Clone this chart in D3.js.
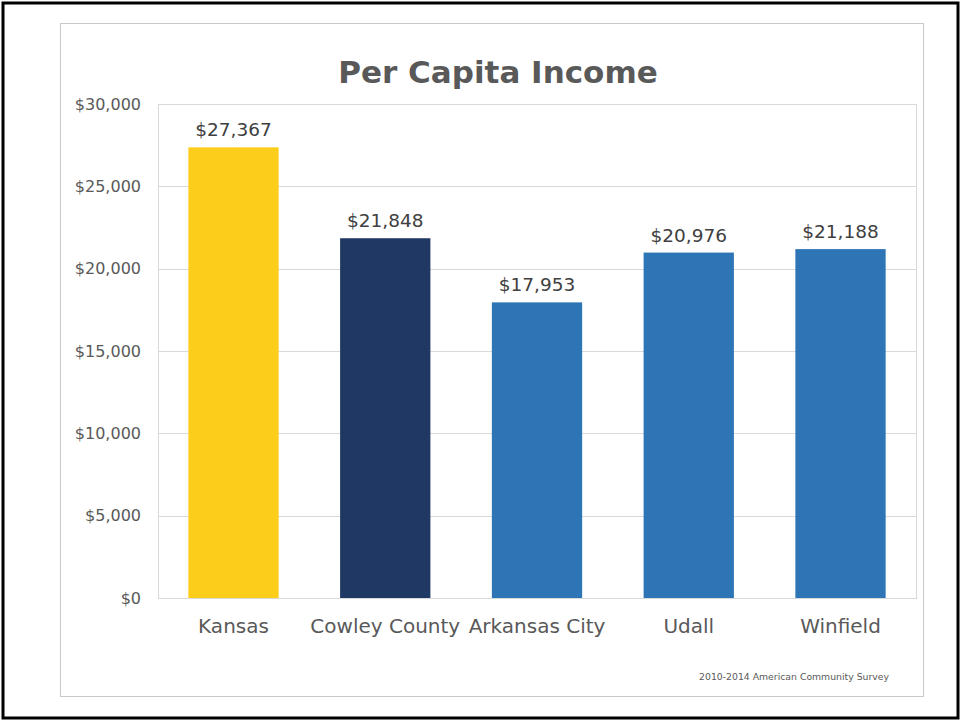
<!DOCTYPE html>
<html>
<head>
<meta charset="utf-8">
<script src="https://cdn.jsdelivr.net/npm/d3@7"></script>
<style>
  body { margin: 0; background: #fff; }
  svg { display: block; font-family: "DejaVu Sans", sans-serif; }
</style>
</head>
<body>
<svg id="chart" width="961" height="721"></svg>
<script>
// ---------- data ----------
const places = ["Kansas", "Cowley County", "Arkansas City", "Udall", "Winfield"];
const income = [27367, 21848, 17953, 20976, 21188];
const barColors = ["#FDCD1C", "#203864", "#2E75B6", "#2E75B6", "#2E75B6"];
const yTicks = [0, 5000, 10000, 15000, 20000, 25000, 30000];

const svg = d3.select("#chart");

// outer frame + slide panel
svg.append("rect")
  .attr("x", 3).attr("y", 3).attr("width", 955).attr("height", 715)
  .attr("fill", "none").attr("stroke", "#000").attr("stroke-width", 3);
svg.append("rect")
  .attr("x", 60.5).attr("y", 23.5).attr("width", 863).attr("height", 673)
  .attr("fill", "#fff").attr("stroke", "#c8c8c8").attr("stroke-width", 1);

const plot = { left: 158, right: 916, top: 104, bottom: 598 };

const x = d3.scaleBand()
  .domain(places)
  .range([plot.left, plot.right])
  .paddingInner(0.405)
  .paddingOuter(0.2);

const y = d3.scaleLinear()
  .domain([0, 30000])
  .range([plot.bottom, plot.top]);

// gridlines
svg.append("g")
  .selectAll("line")
  .data(yTicks)
  .join("line")
  .attr("x1", plot.left).attr("x2", plot.right)
  .attr("y1", d => Math.round(y(d)) + 0.5)
  .attr("y2", d => Math.round(y(d)) + 0.5)
  .attr("stroke", "#d9d9d9");

// plot-area border
svg.append("rect")
  .attr("x", plot.left + 0.5).attr("y", plot.top + 0.5)
  .attr("width", plot.right - plot.left).attr("height", plot.bottom - plot.top)
  .attr("fill", "none").attr("stroke", "#d9d9d9");

// y axis labels
const fmt = d3.format("$,");
const yAxis = svg.append("g")
  .attr("transform", `translate(${plot.left - 17},0)`)
  .call(d3.axisLeft(y).tickValues(yTicks).tickFormat(fmt).tickSize(0).tickPadding(0));
yAxis.select(".domain").remove();
yAxis.selectAll("text")
  .attr("font-size", 16)
  .attr("font-family", "DejaVu Sans, sans-serif")
  .attr("fill", "#595959");

// bars
svg.append("g")
  .selectAll("rect")
  .data(places)
  .join("rect")
  .attr("x", d => x(d))
  .attr("y", (d, i) => y(income[i]))
  .attr("width", x.bandwidth())
  .attr("height", (d, i) => y(0) - y(income[i]))
  .attr("fill", (d, i) => barColors[i]);

// value labels
svg.append("g")
  .selectAll("text")
  .data(places)
  .join("text")
  .attr("x", d => x(d) + x.bandwidth() / 2)
  .attr("y", (d, i) => y(income[i]) - 11)
  .attr("text-anchor", "middle")
  .attr("font-size", 18.5)
  .attr("fill", "#404040")
  .text((d, i) => fmt(income[i]));

// category labels
const xAxis = svg.append("g")
  .attr("transform", `translate(0,${plot.bottom})`)
  .call(d3.axisBottom(x).tickSize(0).tickPadding(21));
xAxis.select(".domain").remove();
xAxis.selectAll("text")
  .attr("font-size", 20)
  .attr("font-family", "DejaVu Sans, sans-serif")
  .attr("fill", "#595959");

// title
svg.append("text")
  .attr("x", 498).attr("y", 83)
  .attr("text-anchor", "middle")
  .attr("font-size", 31)
  .attr("font-weight", "bold")
  .attr("fill", "#595959")
  .text("Per Capita Income");

// source note
svg.append("text")
  .attr("x", 889).attr("y", 680)
  .attr("text-anchor", "end")
  .attr("font-size", 9.3)
  .attr("fill", "#595959")
  .text("2010-2014 American Community Survey");
</script>
</body>
</html>
